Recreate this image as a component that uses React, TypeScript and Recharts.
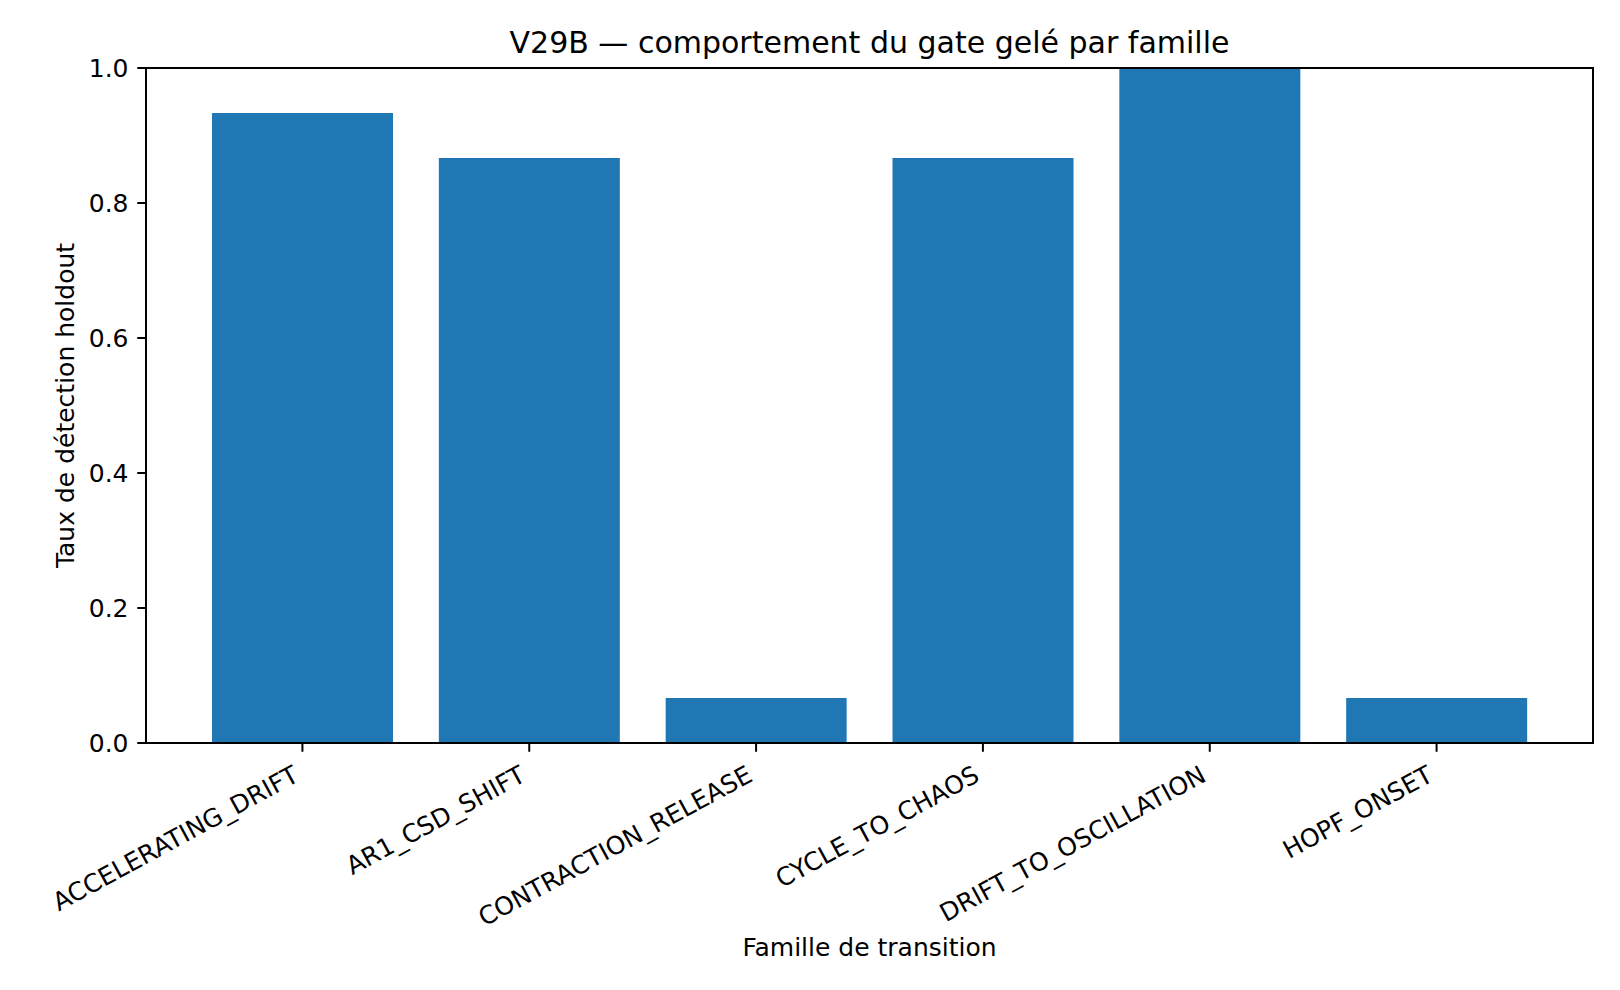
import { BarChart, Bar, XAxis, YAxis } from "recharts";

const families = [
  "ACCELERATING_DRIFT",
  "AR1_CSD_SHIFT",
  "CONTRACTION_RELEASE",
  "CYCLE_TO_CHAOS",
  "DRIFT_TO_OSCILLATION",
  "HOPF_ONSET",
];
const detectionRates = [0.9333, 0.8667, 0.0667, 0.8667, 1.0, 0.0667];
const yTicks = [0, 0.2, 0.4, 0.6, 0.8, 1.0];

const data = families.map((family, i) => ({ family, rate: detectionRates[i] }));

const FONT = "'DejaVu Sans', sans-serif";
const FS = 25;
const W = 1620;
const H = 990;
const PLOT_LEFT = 146;
const PLOT_RIGHT = 1593;
const PLOT_TOP = 68;
const PLOT_BOTTOM = 743;
const CENTER_X = (PLOT_LEFT + PLOT_RIGHT) / 2;
const TICK_LEN = 8.75;

// rotated family names, right end anchored just under the tick
const FamilyTick = ({ x, y, payload }: any) => (
  <g transform={`translate(${x - 2},${y + 28.5})`}>
    <text
      x={0}
      y={0}
      textAnchor="end"
      transform="rotate(-28.5)"
      fontFamily={FONT}
      fontSize={FS}
      fill="#000"
    >
      {payload.value}
    </text>
  </g>
);

const YLabel = ({ viewBox }: any) => {
  const cy = viewBox.y + viewBox.height / 2;
  return (
    <text
      x={73.5}
      y={cy}
      textAnchor="middle"
      transform={`rotate(-90, 73.5, ${cy})`}
      fontFamily={FONT}
      fontSize={FS}
      fill="#000"
    >
      Taux de détection holdout
    </text>
  );
};

const XLabel = () => (
  <text x={CENTER_X} y={956} textAnchor="middle" fontFamily={FONT} fontSize={FS} fill="#000">
    Famille de transition
  </text>
);

const axisStyle = { stroke: "#000", strokeWidth: 2 };

export default function App() {
  return (
    <div style={{ position: "absolute", left: 0, top: 0, width: W, height: H, background: "#fff" }}>
      <BarChart
        width={W}
        height={H}
        data={data}
        margin={{ top: PLOT_TOP, right: W - PLOT_RIGHT, bottom: 0, left: 0 }}
      >
        <XAxis
          dataKey="family"
          height={H - PLOT_BOTTOM}
          padding={{ left: 43, right: 43 }}
          interval={0}
          tickSize={TICK_LEN}
          tickMargin={0}
          axisLine={axisStyle}
          tickLine={axisStyle}
          tick={<FamilyTick />}
          label={<XLabel />}
        />
        <YAxis
          width={PLOT_LEFT}
          domain={[0, 1]}
          ticks={yTicks}
          tickFormatter={(v: number) => v.toFixed(1)}
          tickSize={TICK_LEN}
          tickMargin={TICK_LEN}
          axisLine={axisStyle}
          tickLine={axisStyle}
          tick={{ fontFamily: FONT, fontSize: FS, fill: "#000" }}
          label={<YLabel />}
        />
        <Bar dataKey="rate" fill="#1f77b4" barSize={181} isAnimationActive={false} />
      </BarChart>
      {/* title and the closed axes frame */}
      <svg
        width={W}
        height={H}
        style={{ position: "absolute", left: 0, top: 0, pointerEvents: "none" }}
      >
        <text x={CENTER_X} y={53} textAnchor="middle" fontFamily={FONT} fontSize={30} fill="#000">
          V29B — comportement du gate gelé par famille
        </text>
        <rect
          x={PLOT_LEFT}
          y={PLOT_TOP}
          width={PLOT_RIGHT - PLOT_LEFT}
          height={PLOT_BOTTOM - PLOT_TOP}
          fill="none"
          stroke="#000"
          strokeWidth={2}
        />
      </svg>
    </div>
  );
}
